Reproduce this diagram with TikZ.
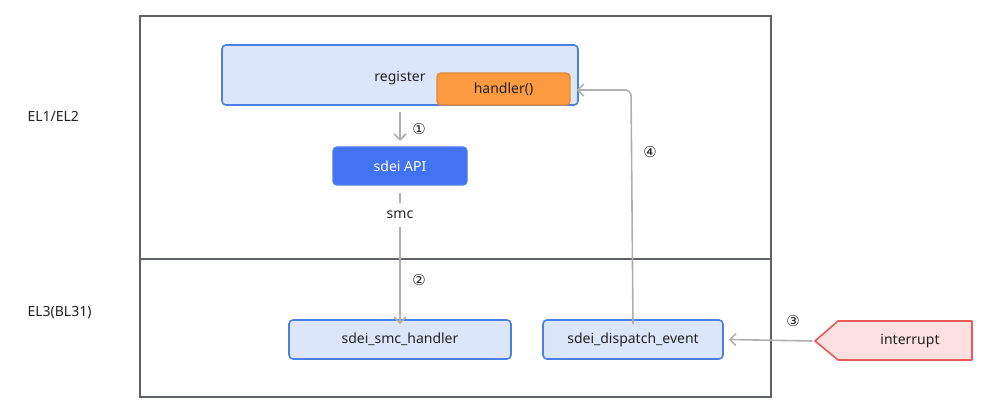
\documentclass[tikz,border=0pt]{standalone}
\usepackage{fontspec}
\setmainfont{Noto Sans}
\newfontfamily\circfont{DejaVu Sans}
\usetikzlibrary{arrows.meta}
\definecolor{frame}{HTML}{5E6268}
\definecolor{lblue}{HTML}{DCE6FB}
\definecolor{bblue}{HTML}{4A7FE6}
\definecolor{dblue}{HTML}{4273F2}
\definecolor{orfill}{HTML}{FB9A3E}
\definecolor{ordraw}{HTML}{E38A35}
\definecolor{pkfill}{HTML}{FDE0E0}
\definecolor{pkdraw}{HTML}{E85A5A}
\definecolor{conn}{HTML}{B0B0B0}
\definecolor{txt}{HTML}{222222}
\begin{document}
\begin{tikzpicture}[x=1pt,y=-1pt,
  every node/.style={font=\fontsize{14}{16}\selectfont,text=txt},
  lbox/.style={draw=bblue,fill=lblue,line width=1.6pt,rounded corners=4pt,inner sep=0pt},
  conn/.style={draw=conn,line width=1.6pt,-{Straight Barb[length=6pt,width=12pt,line width=1.6pt]}},
  plain/.style={draw=conn,line width=1.6pt},
  num/.style={font=\circfont\fontsize{15}{16}\selectfont,text=txt}]
\useasboundingbox (0,0) rectangle (984,411);
\fill[white] (0,0) rectangle (984,411);
% frame
\draw[frame,line width=2pt] (140,16) rectangle (771,397);
\draw[frame,line width=2pt] (140,259) -- (771,259);
\node[anchor=west] (el12) at (24,116) {EL1/EL2};
\node[anchor=west] (el3) at (24,313) {EL3(BL31)};
% register box
\node[lbox,minimum width=356pt,minimum height=60pt] (reg) at (400,75) {};
\node (regt) at (400,78) {register};
\node[draw=ordraw,fill=orfill,line width=1.4pt,rounded corners=4pt,minimum width=133pt,minimum height=32pt,inner sep=0pt] (hand) at (503.5,89) {handler()};
% sdei API
\node[draw=bblue,fill=dblue,line width=1.4pt,rounded corners=4pt,minimum width=134pt,minimum height=38pt,inner sep=0pt,text=white] (api) at (400,166) {sdei API};
% bottom boxes
\node[lbox,minimum width=222pt,minimum height=39pt] (smc) at (400,339.5) {sdei\_smc\_handler};
\node[lbox,minimum width=180pt,minimum height=39pt] (disp) at (633,339.5) {sdei\_dispatch\_event};
% interrupt
\coordinate (itip) at (815,341);
\draw[draw=pkdraw,fill=pkfill,line width=1.6pt,line join=round] (itip) -- (838,321) -- (972,321) -- (972,360) -- (838,360) -- cycle;
\node (intr) at (910,341) {interrupt};
% smc label
\node (smct) at (400,215) {smc};
% connectors
\coordinate (a1s) at (400,112);
\coordinate (a1e) at (400,141);
\draw[conn] (a1s) -- (a1e);
\node[num] (n1) at (419,129) {①};
\draw[plain] (api.south) ++(0,7) -- ++(0,10);
\draw[conn] (smct.south) ++(0,5) -- ([yshift=-5pt]smc.north);
\node[num] (n2) at (419,280) {②};
\draw[conn] (itip) ++(-3,0) -- ([xshift=5pt]disp.east);
\node[num] (n3) at (793,321) {③};
\draw[conn,rounded corners=6pt] ([yshift=-5pt]disp.north) -- (631,90) -- ([xshift=6pt]hand.east |- 0,90);
\node[num] (n4) at (650,152) {④};
\end{tikzpicture}
\end{document}
